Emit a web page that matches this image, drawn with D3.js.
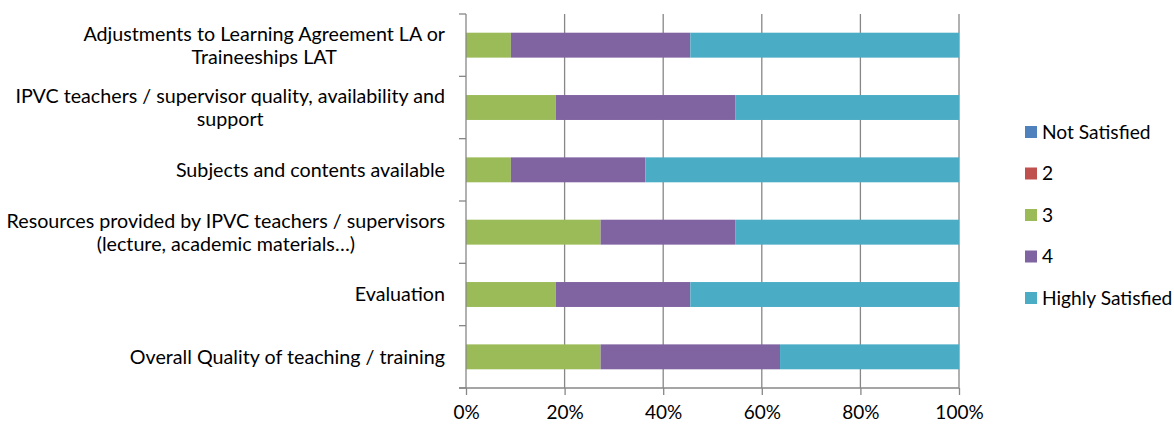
<!DOCTYPE html>
<html>
<head>
<meta charset="utf-8">
<script src="https://cdn.jsdelivr.net/npm/d3@7"></script>
<style>
  html, body { margin: 0; padding: 0; background: #fff; }
  svg { display: block; }
  text { font-family: Lato, "Open Sans", sans-serif; fill: #000; }
</style>
</head>
<body>
<svg id="chart" width="1174" height="426"></svg>
<script>
// Survey items (top to bottom)
const categories = [
  ["Adjustments to Learning Agreement LA or", "Traineeships LAT"],
  ["IPVC teachers / supervisor quality, availability and", "support"],
  ["Subjects and contents available"],
  ["Resources provided by IPVC teachers / supervisors", "(lecture, academic materials\u2026)"],
  ["Evaluation"],
  ["Overall Quality of teaching / training"]
];
const categoryKeys = ["adjust", "teachers", "subjects", "resources", "evaluation", "overall"];

// Satisfaction levels, share of answers (%) per item
const seriesNames = ["Not Satisfied", "2", "3", "4", "Highly Satisfied"];
const notSatisfied   = [0, 0, 0, 0, 0, 0];
const level2         = [0, 0, 0, 0, 0, 0];
const level3         = [9.1, 18.2, 9.1, 27.3, 18.2, 27.3];
const level4         = [36.4, 36.4, 27.3, 27.3, 27.3, 36.4];
const highlySatisfied = [54.5, 45.4, 63.6, 45.4, 54.5, 36.3];

const tickValues = [0, 0.2, 0.4, 0.6, 0.8, 1];
const colors = ["#4F81BD", "#C0504D", "#9BBB59", "#8064A2", "#4BACC6"];

const rows = categoryKeys.map((k, i) => ({
  key: k,
  "Not Satisfied": notSatisfied[i],
  "2": level2[i],
  "3": level3[i],
  "4": level4[i],
  "Highly Satisfied": highlySatisfied[i]
}));

const stack = d3.stack().keys(seriesNames).offset(d3.stackOffsetExpand);
const layers = stack(rows);

const svg = d3.select("#chart");
const plot = { left: 466, right: 959, top: 14, bottom: 388 };

const x = d3.scaleLinear().domain([0, 1]).range([plot.left, plot.right]);
const y = d3.scaleBand().domain(categoryKeys).range([plot.top, plot.bottom])
  .paddingInner(0.6).paddingOuter(0.3);
const yOuter = d3.scaleBand().domain(categoryKeys).range([plot.top, plot.bottom]);
const color = d3.scaleOrdinal().domain(seriesNames).range(colors);

// vertical gridlines
svg.append("g")
  .selectAll("line")
  .data(tickValues.slice(1))
  .join("line")
  .attr("x1", d => x(d)).attr("x2", d => x(d))
  .attr("y1", plot.top).attr("y2", plot.bottom)
  .attr("stroke", "#878787").attr("stroke-width", 1.3);

// bars
svg.append("g")
  .selectAll("g")
  .data(layers)
  .join("g")
  .attr("fill", d => color(d.key))
  .selectAll("rect")
  .data(d => d)
  .join("rect")
  .attr("x", d => x(d[0]))
  .attr("width", d => x(d[1]) - x(d[0]))
  .attr("y", d => y(d.data.key))
  .attr("height", y.bandwidth());

// category axis (left)
const yAxisG = svg.append("g").attr("transform", `translate(${plot.left},0)`);
yAxisG.append("line")
  .attr("x1", 0).attr("x2", 0).attr("y1", plot.top).attr("y2", plot.bottom)
  .attr("stroke", "#878787").attr("stroke-width", 1.3);
const boundaries = categoryKeys.map(k => yOuter(k)).concat([plot.bottom]);
yAxisG.selectAll("line.tick")
  .data(boundaries)
  .join("line")
  .attr("class", "tick")
  .attr("x1", -7).attr("x2", 0)
  .attr("y1", d => d).attr("y2", d => d)
  .attr("stroke", "#878787").attr("stroke-width", 1.3);

// category labels: wrapped lines centred within a right-aligned block
const labelRight = 445;
const labelG = svg.append("g");
categoryKeys.forEach((k, i) => {
  const lines = categories[i];
  const cy = yOuter(k) + yOuter.bandwidth() / 2;
  const lh = 23;
  const t = labelG.append("text")
    .attr("text-anchor", "middle")
    .attr("font-size", 19.7);
  const spans = lines.map((ln, j) => t.append("tspan")
    .attr("y", cy + (j - (lines.length - 1) / 2) * lh)
    .attr("dy", "0.35em")
    .text(ln));
  const maxW = d3.max(spans, s => s.node().getComputedTextLength());
  spans.forEach(s => s.attr("x", labelRight - maxW / 2));
});

// value axis (bottom)
const xAxis = d3.axisBottom(x)
  .tickValues(tickValues)
  .tickFormat(d3.format(".0%"))
  .tickSize(7)
  .tickPadding(11);
const xAxisG = svg.append("g")
  .attr("transform", `translate(0,${plot.bottom})`)
  .call(xAxis);
xAxisG.select(".domain").attr("stroke", "#878787").attr("stroke-width", 1.3)
  .attr("d", `M${plot.left - 7},0H${plot.right}`);
xAxisG.selectAll(".tick line").attr("stroke", "#878787").attr("stroke-width", 1.3);
xAxisG.selectAll(".tick text")
  .attr("font-size", 19)
  .attr("font-family", "Lato, 'Open Sans', sans-serif")
  .attr("fill", "#000");

// legend
const legend = svg.append("g");
seriesNames.forEach((name, i) => {
  const cy = 132 + i * 41.5;
  legend.append("rect")
    .attr("x", 1025).attr("y", cy - 6)
    .attr("width", 12).attr("height", 12)
    .attr("fill", color(name));
  legend.append("text")
    .attr("x", 1042).attr("y", cy)
    .attr("dy", "0.35em")
    .attr("font-size", 19.2)
    .text(name);
});
</script>
</body>
</html>
